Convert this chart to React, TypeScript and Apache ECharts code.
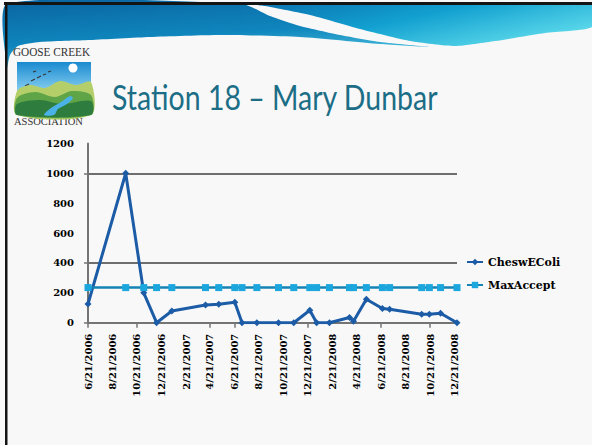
import React, { useEffect, useRef } from 'react';
import * as echarts from 'echarts';

// ---- data ----
const sampleDates = [
  '6/21/2006', '9/23/2006', '11/7/2006', '12/9/2006', '1/16/2007', '4/10/2007',
  '5/13/2007', '6/22/2007', '7/10/2007', '8/16/2007', '10/9/2007', '11/16/2007',
  '12/26/2007', '1/12/2008', '2/13/2008', '4/3/2008', '4/13/2008', '5/15/2008',
  '6/24/2008', '7/12/2008', '9/30/2008', '10/19/2008', '11/16/2008', '12/27/2008',
];
const cheswEColi = [
  125, 1000, 200, 0, 78, 118,
  123, 137, 0, 0, 0, 0,
  83, 0, 0, 35, 10, 157,
  95, 90, 56, 56, 63, 0,
];
const maxAccept = [
  235, 235, 235, 235, 235, 235,
  235, 235, 235, 235, 235, 235,
  235, 235, 235, 235, 235, 235,
  235, 235, 235, 235, 235, 235,
];
const xLabelDates = [
  '6/21/2006', '8/21/2006', '10/21/2006', '12/21/2006', '2/21/2007', '4/21/2007',
  '6/21/2007', '8/21/2007', '10/21/2007', '12/21/2007', '2/21/2008', '4/21/2008',
  '6/21/2008', '8/21/2008', '10/21/2008', '12/21/2008',
];
const xTickDates = ['6/21/2006', '10/21/2006', '4/21/2007', '6/21/2007', '12/21/2007', '6/21/2008', '10/21/2008'];
const yTickValues = [0, 400, 1000];
const gridLineValues = [400, 1000];
const seriesNames = ['CheswEColi', 'MaxAccept'];
const titleText = 'Station 18 \u2013 Mary Dunbar';

const parseDate = (s: string) => {
  const [m, d, y] = s.split('/').map(Number);
  return Date.UTC(y, m - 1, d);
};
const fmtDate = (v: number) => {
  const d = new Date(v);
  return `${d.getUTCMonth() + 1}/${d.getUTCDate()}/${d.getUTCFullYear()}`;
};

const axisFont = { fontFamily: 'DejaVu Serif', fontWeight: 'bold' as const, fontSize: 10, color: '#000' };

function buildOption() {
  const xs = sampleDates.map(parseDate);
  const graphic: any[] = [
    // header left wave
    {
      type: 'polygon',
      shape: {
        smooth: 0.2,
        points: [[7, 4], [242, 4], [270, 16], [300, 26], [340, 35], [380, 42], [430, 47],
          [380, 44], [300, 37], [220, 35], [150, 37], [90, 40], [40, 42], [18, 46], [10, 55], [7, 68]],
      },
      style: {
        fill: { type: 'linear', x: 0, y: 0, x2: 0.4, y2: 1, colorStops: [
          { offset: 0, color: '#0a64a0' }, { offset: 0.6, color: '#0f86bd' }, { offset: 1, color: '#4cc0de' }] },
      },
    },
    // header right wave
    {
      type: 'polygon',
      shape: {
        smooth: 0.2,
        points: [[250, 4], [592, 4], [592, 27], [545, 33], [495, 41], [455, 46], [410, 41],
          [360, 29], [310, 15], [265, 6]],
      },
      style: {
        fill: { type: 'linear', x: 0, y: 0, x2: 1, y2: 0.6, colorStops: [
          { offset: 0, color: '#0a6fae' }, { offset: 0.5, color: '#12a0d0' }, { offset: 1, color: '#5ad8ea' }] },
      },
    },
    // frame
    { type: 'rect', shape: { x: 4, y: 2, width: 590, height: 3 }, style: { fill: '#141414' } },
    { type: 'rect', shape: { x: 5, y: 2, width: 2.5, height: 445 }, style: { fill: '#141414' } },
    // logo texts
    { type: 'text', x: 13, y: 52, scaleX: 0.9, style: { text: 'GOOSE CREEK', fontFamily: 'Liberation Serif', fontSize: 12.5, fill: '#333', verticalAlign: 'middle' } },
    { type: 'text', x: 14, y: 121, style: { text: 'ASSOCIATION', fontFamily: 'Liberation Serif', fontSize: 10.5, fill: '#333', verticalAlign: 'middle', letterSpacing: 2 } },
    // logo picture
    { type: 'rect', shape: { x: 17, y: 62, width: 74, height: 53 }, style: {
      fill: { type: 'linear', x: 0, y: 0, x2: 0, y2: 1, colorStops: [
        { offset: 0, color: '#1a8ad0' }, { offset: 0.5, color: '#7cc8ee' }, { offset: 1, color: '#c8eaf8' }] } } },
    { type: 'circle', shape: { cx: 73, cy: 68, r: 4.5 }, style: { fill: '#ffffff' } },
    { type: 'polyline', shape: { points: [[25, 86], [29, 84]] }, style: { stroke: '#333', lineWidth: 1.2 } },
    { type: 'polyline', shape: { points: [[31, 81], [35, 79]] }, style: { stroke: '#333', lineWidth: 1.2 } },
    { type: 'polyline', shape: { points: [[37, 78], [41, 76]] }, style: { stroke: '#333', lineWidth: 1.2 } },
    { type: 'polyline', shape: { points: [[43, 75], [46, 74]] }, style: { stroke: '#333', lineWidth: 1.2 } },
    { type: 'polyline', shape: { points: [[48, 72], [51, 71]] }, style: { stroke: '#333', lineWidth: 1.2 } },
    { type: 'polyline', shape: { points: [[33, 72], [36, 71]] }, style: { stroke: '#333', lineWidth: 1.2 } },
    { type: 'polygon', shape: { smooth: 0.3, points: [[17, 91], [30, 85], [45, 88], [60, 81], [76, 85], [91, 82], [91, 115], [17, 115]] }, style: { fill: '#b4cf6a' } },
    { type: 'polygon', shape: { smooth: 0.3, points: [[17, 98], [35, 92], [55, 97], [72, 91], [91, 95], [91, 115], [17, 115]] }, style: { fill: '#5fa447' } },
    { type: 'polygon', shape: { smooth: 0.3, points: [[17, 104], [40, 100], [62, 104], [91, 101], [91, 115], [17, 115]] }, style: { fill: '#2f7d3e' } },
    { type: 'polygon', shape: { smooth: 0.3, points: [[44, 115], [54, 115], [58, 109], [67, 104], [73, 98], [70, 96], [61, 102], [51, 108]] }, style: { fill: '#4ab2e6' } },
    // title
    { type: 'text', x: 112, y: 97, scaleX: 0.838, style: { text: titleText, fontFamily: 'Lato', fontSize: 34, fill: '#1c6e87', verticalAlign: 'middle' } },
  ];

  return {
    animation: false,
    backgroundColor: '#f8f8f8',
    graphic,
    grid: { left: 88, top: 143.4, width: 369, height: 179.3, containLabel: false },
    legend: {
      orient: 'vertical',
      left: 466,
      top: 256.5,
      padding: 0,
      itemWidth: 16,
      itemHeight: 8,
      itemGap: 12,
      data: seriesNames,
      textStyle: { fontFamily: 'DejaVu Serif', fontWeight: 'bold', fontSize: 11, color: '#000' },
    },
    xAxis: {
      type: 'value',
      min: parseDate(sampleDates[0]),
      max: parseDate(sampleDates[sampleDates.length - 1]),
      axisLine: { show: true, onZero: false, lineStyle: { color: '#747474', width: 2 } },
      axisTick: { show: true, customValues: xTickDates.map(parseDate), length: 5, lineStyle: { color: '#747474', width: 1.5 } },
      axisLabel: { ...axisFont, rotate: 90, margin: 11, customValues: xLabelDates.map(parseDate), formatter: (v: number) => fmtDate(v) },
      splitLine: { show: false },
    },
    yAxis: {
      type: 'value',
      min: 0,
      max: 1200,
      interval: 200,
      axisLine: { show: true, lineStyle: { color: '#747474', width: 2 } },
      axisTick: { show: true, customValues: yTickValues, length: 4, lineStyle: { color: '#747474', width: 1.5 } },
      axisLabel: { ...axisFont, margin: 14, formatter: (v: number) => String(v) },
      splitLine: { show: false },
    },
    series: [
      {
        name: seriesNames[0],
        type: 'line',
        data: xs.map((x, i) => [x, cheswEColi[i]]),
        symbol: 'diamond',
        symbolSize: 7,
        showAllSymbol: true,
        lineStyle: { color: '#1c5ca6', width: 3 },
        itemStyle: { color: '#1c5ca6' },
        z: 3,
        markLine: {
          silent: true,
          symbol: ['none', 'none'],
          label: { show: false },
          lineStyle: { color: '#6e6e6e', width: 2, type: 'solid' },
          data: gridLineValues.map((v) => ({ yAxis: v })),
          z: 1,
        },
      },
      {
        name: seriesNames[1],
        type: 'line',
        data: xs.map((x, i) => [x, maxAccept[i]]),
        symbol: 'rect',
        symbolSize: 7,
        showAllSymbol: true,
        lineStyle: { color: '#1584b4', width: 2.5 },
        itemStyle: { color: '#1ba6de' },
        z: 4,
      },
    ],
  };
}

export default function App() {
  const ref = useRef<HTMLDivElement>(null);
  useEffect(() => {
    const chart = echarts.init(ref.current!, null, { renderer: 'svg' });
    chart.setOption(buildOption() as any);
    return () => chart.dispose();
  }, []);
  return <div ref={ref} style={{ position: 'absolute', left: 0, top: 0, width: 592, height: 445 }} />;
}
